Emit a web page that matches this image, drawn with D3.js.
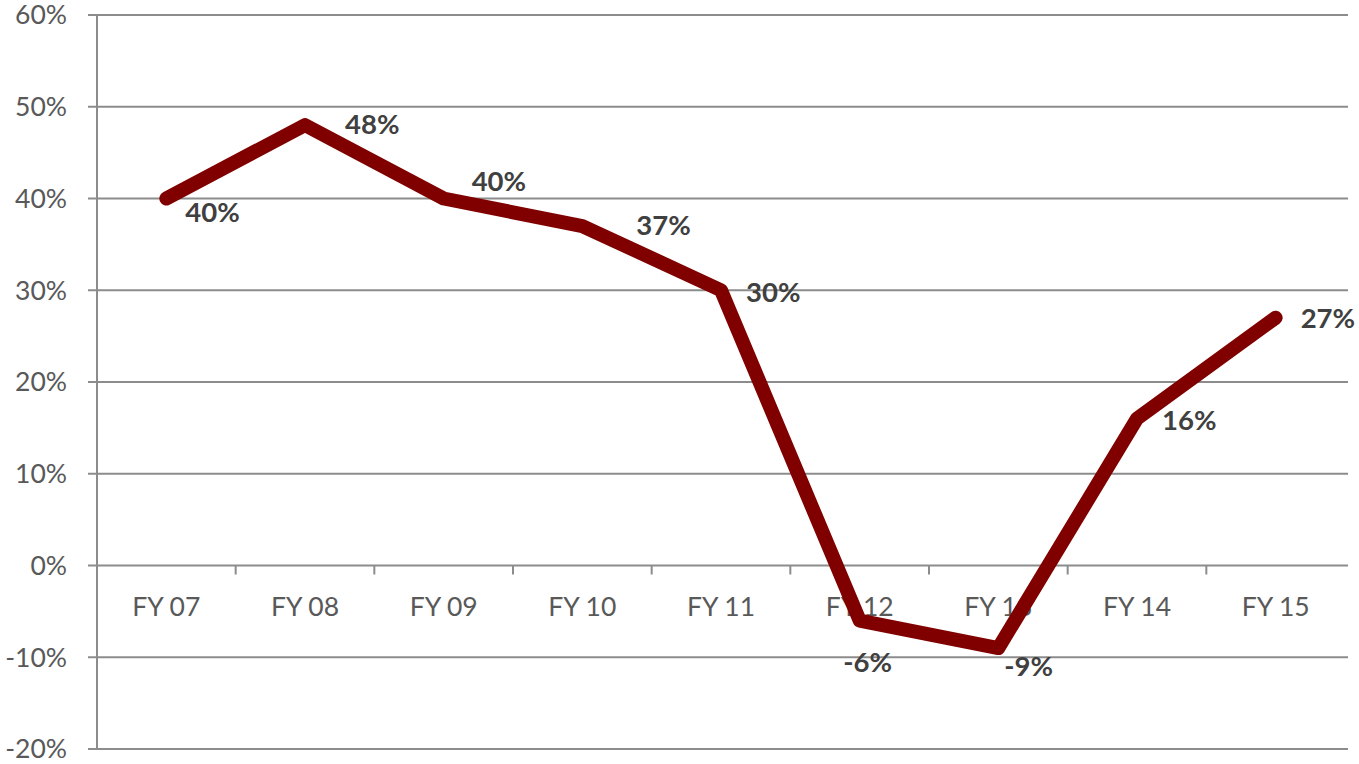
<!DOCTYPE html>
<html lang="en">
  <head>
    <meta charset="UTF-8" />
    <title>Growth FY07 - FY15</title>
    <script src="https://cdn.jsdelivr.net/npm/d3@7"></script>
    <style>
      body {
        margin: 0;
        padding: 0;
        background: #fff;
      }
      svg text {
        font-family: Lato, "Open Sans", sans-serif;
      }
    </style>
  </head>
  <body>
    <svg id="chart" width="1359" height="764"></svg>

    <script>
      const years = ["FY 07", "FY 08", "FY 09", "FY 10", "FY 11", "FY 12", "FY 13", "FY 14", "FY 15"];
      const growth = [40, 48, 40, 37, 30, -6, -9, 16, 27];
      const yTicks = [-20, -10, 0, 10, 20, 30, 40, 50, 60];

      // where each data label sits relative to its point (dx, dy, anchor)
      const labelPos = [
        [19, 14, "start"],
        [40, -1, "start"],
        [28, -17, "start"],
        [54, -1, "start"],
        [25, 2, "start"],
        [8, 42, "middle"],
        [6, 18, "start"],
        [25, 2, "start"],
        [25, 1, "start"]
      ];

      const margin = { left: 97, right: 1345, top: 15, bottom: 749 };
      const svg = d3.select("#chart");

      const x = d3.scaleBand().domain(years).range([margin.left, margin.right]);
      const y = d3.scaleLinear().domain([-20, 60]).range([margin.bottom, margin.top]);

      // horizontal grid
      svg.append("g")
        .selectAll("line")
        .data(yTicks)
        .enter()
        .append("line")
        .attr("x1", margin.left - 9)
        .attr("x2", 1348)
        .attr("y1", (d) => y(d))
        .attr("y2", (d) => y(d))
        .attr("stroke", "#8c8c8c")
        .attr("stroke-width", 2);

      // y axis line
      svg.append("line")
        .attr("x1", margin.left)
        .attr("x2", margin.left)
        .attr("y1", y(60))
        .attr("y2", y(-20))
        .attr("stroke", "#8c8c8c")
        .attr("stroke-width", 2);

      // y tick labels
      svg.append("g")
        .selectAll("text")
        .data(yTicks)
        .enter()
        .append("text")
        .attr("x", 67)
        .attr("y", (d) => y(d))
        .attr("dy", "0.35em")
        .attr("text-anchor", "end")
        .attr("font-size", 26.5)
        .attr("fill", "#595959")
        .text((d) => d + "%");

      // category separators on the zero line
      svg.append("g")
        .selectAll("line")
        .data(years.slice(1))
        .enter()
        .append("line")
        .attr("x1", (d) => x(d))
        .attr("x2", (d) => x(d))
        .attr("y1", y(0))
        .attr("y2", y(0) + 9)
        .attr("stroke", "#8c8c8c")
        .attr("stroke-width", 2);

      // category labels
      svg.append("g")
        .selectAll("text")
        .data(years)
        .enter()
        .append("text")
        .attr("x", (d) => x(d) + x.bandwidth() / 2)
        .attr("y", 607)
        .attr("dy", "0.35em")
        .attr("text-anchor", "middle")
        .attr("font-size", 26.5)
        .attr("fill", "#595959")
        .text((d) => d);

      const line = d3
        .line()
        .x((d, i) => x(years[i]) + x.bandwidth() / 2)
        .y((d) => y(d));

      svg.append("path")
        .datum(growth)
        .attr("d", line)
        .attr("fill", "none")
        .attr("stroke", "#800000")
        .attr("stroke-width", 14)
        .attr("stroke-linejoin", "round")
        .attr("stroke-linecap", "round");

      // data labels
      svg.append("g")
        .selectAll("text")
        .data(growth)
        .enter()
        .append("text")
        .attr("x", (d, i) => x(years[i]) + x.bandwidth() / 2 + labelPos[i][0])
        .attr("y", (d, i) => y(d) + labelPos[i][1])
        .attr("dy", "0.35em")
        .attr("text-anchor", (d, i) => labelPos[i][2])
        .attr("font-size", 27.5)
        .attr("font-weight", "bold")
        .attr("fill", "#404040")
        .text((d) => d + "%");
    </script>
  </body>
</html>
